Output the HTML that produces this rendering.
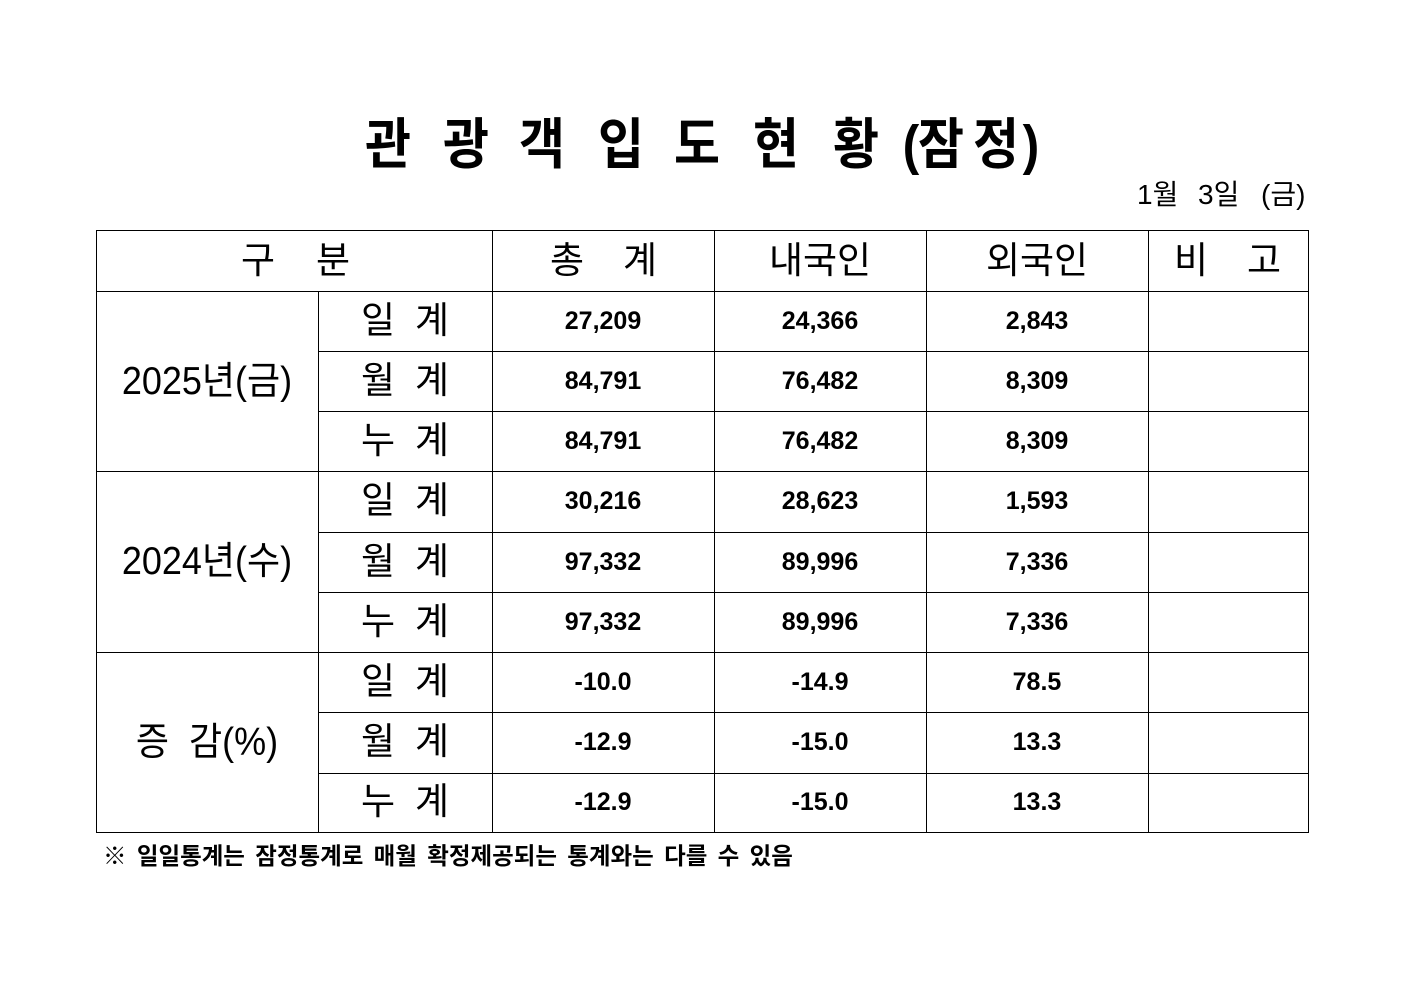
<!DOCTYPE html>
<html>
<head>
<meta charset="utf-8">
<style>
html,body{margin:0;padding:0;background:#fff;}
body{width:1403px;height:992px;position:relative;overflow:hidden;font-family:"Liberation Sans","Noto Sans CJK KR",sans-serif;color:#000;}
.h{position:absolute;height:1px;background:#000;}
.v{position:absolute;width:1px;background:#000;}
.t{position:absolute;width:240px;margin-left:-120px;height:60px;margin-top:-30px;line-height:60px;text-align:center;white-space:nowrap;}
.lb{font-size:37px;}
.num{font-size:25px;font-weight:bold;}
.yr{font-size:36px;transform:scaleY(1.08);}
.ti{position:absolute;width:100px;margin-left:-50px;height:60px;margin-top:-30px;line-height:60px;text-align:center;font-size:50px;font-weight:bold;transform:scaleY(1.1);white-space:nowrap;}
.d{position:absolute;font-size:28px;height:40px;line-height:40px;top:175px;white-space:nowrap;}
.fn{position:absolute;left:103px;top:841px;height:30px;line-height:30px;font-size:23.5px;font-weight:bold;white-space:nowrap;word-spacing:3.8px;}
</style>
</head>
<body>

<!-- Title -->
<div class="ti" style="left:388px;top:145px;">관</div>
<div class="ti" style="left:466px;top:145px;">광</div>
<div class="ti" style="left:542px;top:145px;">객</div>
<div class="ti" style="left:621px;top:145px;">입</div>
<div class="ti" style="left:697px;top:145px;">도</div>
<div class="ti" style="left:776px;top:145px;">현</div>
<div class="ti" style="left:856px;top:145px;">황</div>
<div class="ti" style="left:911px;top:145px;">(</div>
<div class="ti" style="left:941px;top:145px;">잠</div>
<div class="ti" style="left:996px;top:145px;">정</div>
<div class="ti" style="left:1031px;top:145px;">)</div>

<!-- Date -->
<div class="d" style="left:1137px;">1월</div>
<div class="d" style="left:1198px;">3일</div>
<div class="d" style="left:1261px;">(금)</div>

<!-- Horizontal lines -->
<div class="h" style="left:96px;width:1213px;top:230px;"></div>
<div class="h" style="left:96px;width:1213px;top:291px;"></div>
<div class="h" style="left:318px;width:991px;top:351px;"></div>
<div class="h" style="left:318px;width:991px;top:411px;"></div>
<div class="h" style="left:96px;width:1213px;top:471px;"></div>
<div class="h" style="left:318px;width:991px;top:532px;"></div>
<div class="h" style="left:318px;width:991px;top:592px;"></div>
<div class="h" style="left:96px;width:1213px;top:652px;"></div>
<div class="h" style="left:318px;width:991px;top:712px;"></div>
<div class="h" style="left:318px;width:991px;top:773px;"></div>
<div class="h" style="left:96px;width:1213px;top:832px;"></div>

<!-- Vertical lines -->
<div class="v" style="left:96px;top:230px;height:603px;"></div>
<div class="v" style="left:318px;top:291px;height:542px;"></div>
<div class="v" style="left:492px;top:230px;height:603px;"></div>
<div class="v" style="left:714px;top:230px;height:603px;"></div>
<div class="v" style="left:926px;top:230px;height:603px;"></div>
<div class="v" style="left:1148px;top:230px;height:603px;"></div>
<div class="v" style="left:1308px;top:230px;height:603px;"></div>

<!-- Header -->
<div class="t lb" style="left:258px;top:261px;">구</div>
<div class="t lb" style="left:333px;top:261px;">분</div>
<div class="t lb" style="left:567px;top:261px;">총</div>
<div class="t lb" style="left:640px;top:261px;">계</div>
<div class="t lb" style="left:820px;top:261px;">내국인</div>
<div class="t lb" style="left:1037px;top:261px;">외국인</div>
<div class="t lb" style="left:1191px;top:261px;">비</div>
<div class="t lb" style="left:1264px;top:261px;">고</div>

<!-- Left group labels -->
<div class="t yr" style="left:207px;top:381px;">2025년(금)</div>
<div class="t yr" style="left:207px;top:561px;">2024년(수)</div>
<div class="t yr" style="left:207px;top:742px;">증&nbsp;&nbsp;감(%)</div>

<!-- Sub labels -->
<div class="t lb" style="left:378px;top:321px;">일</div><div class="t lb" style="left:432px;top:321px;">계</div>
<div class="t lb" style="left:378px;top:381px;">월</div><div class="t lb" style="left:432px;top:381px;">계</div>
<div class="t lb" style="left:378px;top:441px;">누</div><div class="t lb" style="left:432px;top:441px;">계</div>
<div class="t lb" style="left:378px;top:501px;">일</div><div class="t lb" style="left:432px;top:501px;">계</div>
<div class="t lb" style="left:378px;top:562px;">월</div><div class="t lb" style="left:432px;top:562px;">계</div>
<div class="t lb" style="left:378px;top:622px;">누</div><div class="t lb" style="left:432px;top:622px;">계</div>
<div class="t lb" style="left:378px;top:682px;">일</div><div class="t lb" style="left:432px;top:682px;">계</div>
<div class="t lb" style="left:378px;top:742px;">월</div><div class="t lb" style="left:432px;top:742px;">계</div>
<div class="t lb" style="left:378px;top:802px;">누</div><div class="t lb" style="left:432px;top:802px;">계</div>

<!-- Numbers -->
<div class="t num" style="left:603px;top:321px;">27,209</div>
<div class="t num" style="left:820px;top:321px;">24,366</div>
<div class="t num" style="left:1037px;top:321px;">2,843</div>

<div class="t num" style="left:603px;top:381px;">84,791</div>
<div class="t num" style="left:820px;top:381px;">76,482</div>
<div class="t num" style="left:1037px;top:381px;">8,309</div>

<div class="t num" style="left:603px;top:441px;">84,791</div>
<div class="t num" style="left:820px;top:441px;">76,482</div>
<div class="t num" style="left:1037px;top:441px;">8,309</div>

<div class="t num" style="left:603px;top:501px;">30,216</div>
<div class="t num" style="left:820px;top:501px;">28,623</div>
<div class="t num" style="left:1037px;top:501px;">1,593</div>

<div class="t num" style="left:603px;top:562px;">97,332</div>
<div class="t num" style="left:820px;top:562px;">89,996</div>
<div class="t num" style="left:1037px;top:562px;">7,336</div>

<div class="t num" style="left:603px;top:622px;">97,332</div>
<div class="t num" style="left:820px;top:622px;">89,996</div>
<div class="t num" style="left:1037px;top:622px;">7,336</div>

<div class="t num" style="left:603px;top:682px;">-10.0</div>
<div class="t num" style="left:820px;top:682px;">-14.9</div>
<div class="t num" style="left:1037px;top:682px;">78.5</div>

<div class="t num" style="left:603px;top:742px;">-12.9</div>
<div class="t num" style="left:820px;top:742px;">-15.0</div>
<div class="t num" style="left:1037px;top:742px;">13.3</div>

<div class="t num" style="left:603px;top:802px;">-12.9</div>
<div class="t num" style="left:820px;top:802px;">-15.0</div>
<div class="t num" style="left:1037px;top:802px;">13.3</div>

<!-- Footnote -->
<div class="fn">※ 일일통계는 잠정통계로 매월 확정제공되는 통계와는 다를 수 있음</div>

</body>
</html>
